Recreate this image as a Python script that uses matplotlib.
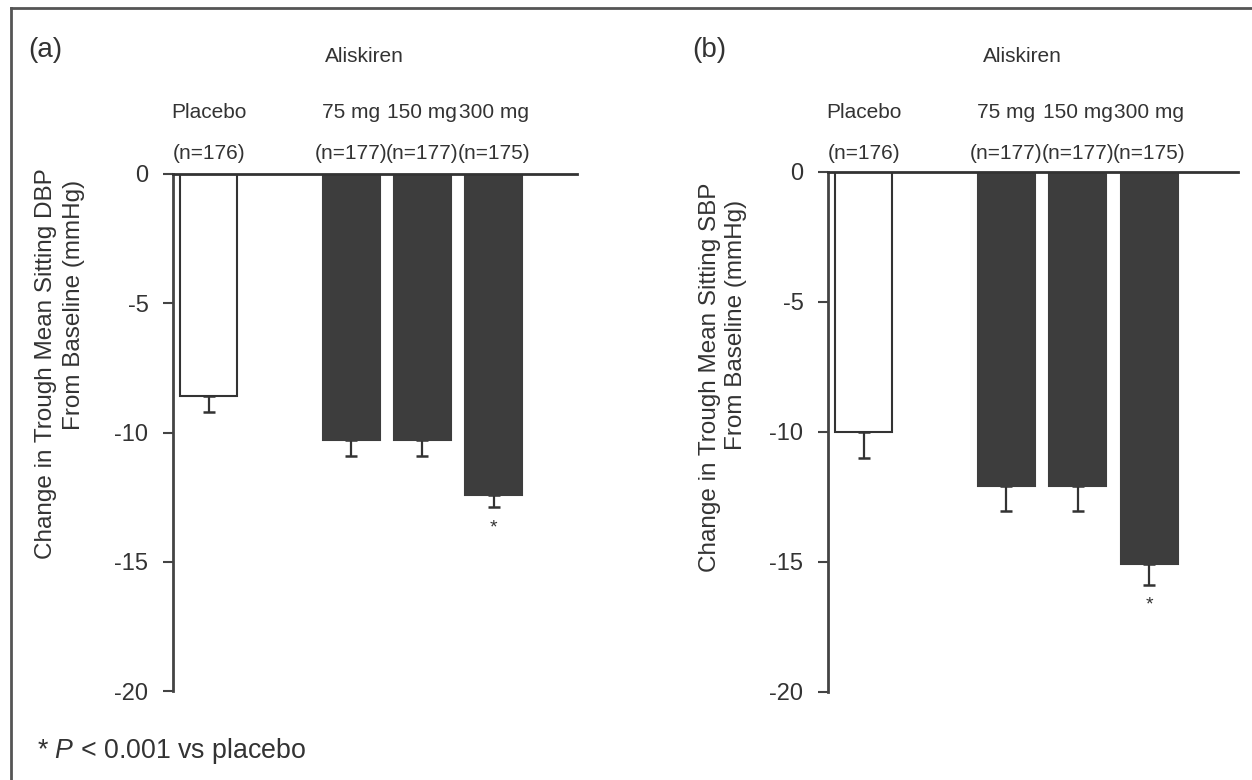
import matplotlib
matplotlib.use('Agg')
import matplotlib.pyplot as plt
from matplotlib.transforms import blended_transform_factory
from matplotlib.lines import Line2D

plt.rcParams['font.family'] = ['Liberation Sans', 'DejaVu Sans']
plt.rcParams['mathtext.fontset'] = 'custom'
plt.rcParams['mathtext.rm'] = 'Liberation Sans'
plt.rcParams['mathtext.it'] = 'Liberation Sans:italic'

# ---- data ----
groups = ['Placebo', '75 mg', '150 mg', '300 mg']
n_labels = ['(n=176)', '(n=177)', '(n=177)', '(n=175)']
positions = [0, 2, 3, 4]
dbp_change = [-8.6, -10.3, -10.3, -12.4]
dbp_err = [0.6, 0.6, 0.6, 0.5]
sbp_change = [-10.0, -12.1, -12.1, -15.1]
sbp_err = [1.0, 0.95, 0.95, 0.8]
significant = [False, False, False, True]
yticks = [0, -5, -10, -15, -20]

W, H = 1252, 780
fig = plt.figure(figsize=(W / 100, H / 100), dpi=100)
fig.patch.set_facecolor('white')


def fx(px):
    return px / W


def fy(py):
    return 1 - py / H


TXT = '#333333'
DARK = '#3d3d3d'
AXC = '#444444'


def panel(left_px, right_px, top_px, bottom_px, xmax, values, errs,
          tag, tag_x, alis_x, yl1, yl1_xy, yl2, yl2_xy):
    ax = fig.add_axes([fx(left_px), fy(bottom_px),
                       (right_px - left_px) / W, (bottom_px - top_px) / H])
    colors = ['white' if g == 'Placebo' else DARK for g in groups]
    edges = [TXT if g == 'Placebo' else DARK for g in groups]
    ax.errorbar(positions, values, yerr=[errs, [0] * len(errs)], fmt='none',
                ecolor=TXT, elinewidth=1.6, capsize=4.5, capthick=1.8, zorder=1)
    ax.bar(positions, values, width=0.8, color=colors, edgecolor=edges,
           linewidth=1.5, zorder=2)
    ax.axhline(0, color=TXT, lw=2, zorder=3, clip_on=False)
    ax.set_xlim(-0.5, xmax)
    ax.set_ylim(-20, 0)
    for s in ['top', 'right', 'bottom']:
        ax.spines[s].set_visible(False)
    ax.spines['left'].set_color(AXC)
    ax.spines['left'].set_linewidth(2)
    ax.set_xticks([])
    ax.set_yticks(yticks)
    ax.set_yticklabels([str(t) for t in yticks])
    ax.tick_params(axis='y', direction='out', length=7.2, width=1.5,
                   color=AXC, labelsize=17, pad=10.5, labelcolor=TXT)
    ax.patch.set_alpha(0)

    for p, v, e, sig in zip(positions, values, errs, significant):
        if sig:
            ax.text(p, v - e - 0.45, '*', ha='center', va='top',
                    fontsize=14, color=TXT)

    tr = blended_transform_factory(ax.transData, fig.transFigure)
    for p, g, n in zip(positions, groups, n_labels):
        ax.text(p, fy(118), g, transform=tr, ha='center', va='baseline',
                fontsize=15, color=TXT)
        ax.text(p, fy(159), n, transform=tr, ha='center', va='baseline',
                fontsize=15, color=TXT)

    fig.text(fx(tag_x), fy(57), tag, ha='left', va='baseline',
             fontsize=20, color=TXT)
    fig.text(fx(alis_x), fy(62), 'Aliskiren', ha='center', va='baseline',
             fontsize=15, color=TXT)
    fig.text(fx(yl1_xy[0]), fy(yl1_xy[1]), yl1, rotation=90, ha='center',
             va='center', fontsize=17.5, color=TXT)
    fig.text(fx(yl2_xy[0]), fy(yl2_xy[1]), yl2, rotation=90, ha='center',
             va='center', fontsize=17.5, color=TXT)
    return ax


panel(173, 577, 174, 691, 5.17, dbp_change, dbp_err,
      '(a)', 28, 364,
      'Change in Trough Mean Sitting DBP', (46, 364),
      'From Baseline (mmHg)', (74, 305))

panel(828, 1238, 171.7, 691.7, 5.245, sbp_change, sbp_err,
      '(b)', 692, 1022,
      'Change in Trough Mean Sitting SBP', (710, 377),
      'From Baseline (mmHg)', (736, 325))

fig.text(fx(37), fy(758), r'* $P$ < 0.001 vs placebo', ha='left',
         va='baseline', fontsize=19.3, color=TXT)

# frame lines (top and left) of the figure panel
fig.add_artist(Line2D([fx(11), fx(11)], [0, fy(8)], transform=fig.transFigure,
                      color='#555555', lw=2))
fig.add_artist(Line2D([fx(11), 1], [fy(8), fy(8)], transform=fig.transFigure,
                      color='#555555', lw=2))

fig.savefig('out.png', dpi=100, facecolor='white')
